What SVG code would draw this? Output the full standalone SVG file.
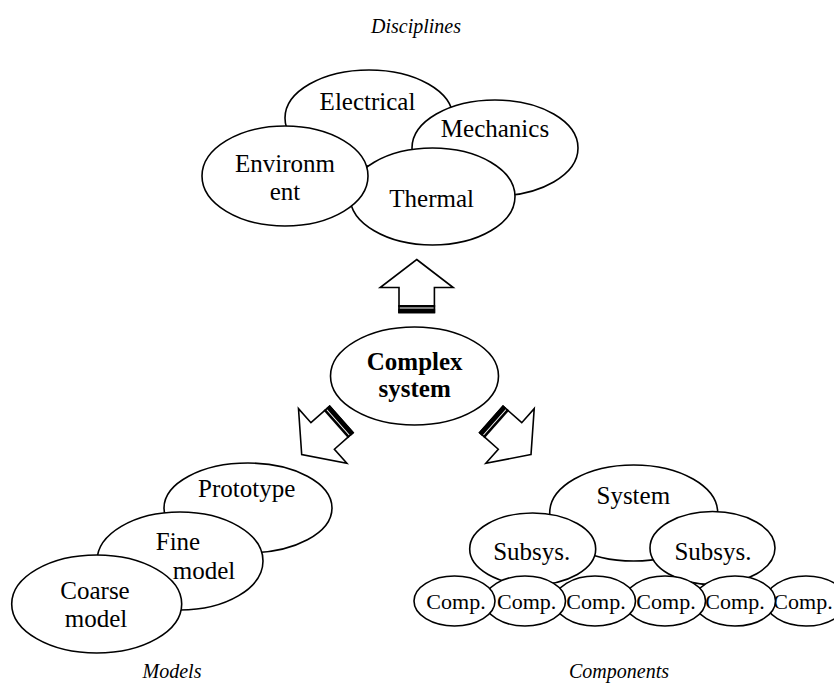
<svg xmlns="http://www.w3.org/2000/svg" xmlns:xlink="http://www.w3.org/1999/xlink" width="834" height="688" viewBox="0 0 834 688">
<style>
.n{fill:#fff;stroke:#000;stroke-width:1.6}
.t{font-family:"Liberation Serif","Times New Roman",serif;font-size:25px;fill:#000;text-anchor:middle}
.b{font-weight:bold}
.c{font-size:22px}
.cap{font-family:"Liberation Serif","Times New Roman",serif;font-size:20px;font-style:italic;fill:#000;text-anchor:middle}
</style>
<defs>
<g id="arrow">
<path d="M0,0 L36.5,28 L17.7,28 L17.7,53 L-17.7,53 L-17.7,28 L-36.5,28 Z" fill="#fff" stroke="#000" stroke-width="1.6" stroke-linejoin="miter"/>
<rect x="-18.5" y="45.5" width="37" height="2.5" fill="#000"/>
<rect x="-18.5" y="49" width="37" height="4.8" fill="#000"/>
</g>
</defs>
<rect width="834" height="688" fill="#fff"/>
<text class="cap" x="416" y="33">Disciplines</text>
<text class="cap" x="172" y="678">Models</text>
<text class="cap" x="619" y="678">Components</text>

<g id="electrical"><ellipse class="n" cx="369" cy="118" rx="84" ry="48"/><text class="t" x="367.5" y="110">Electrical</text></g>
<g id="mechanics"><ellipse class="n" cx="495" cy="148" rx="83" ry="48"/><text class="t" x="495" y="137">Mechanics</text></g>
<g id="thermal"><ellipse class="n" cx="432.5" cy="196.5" rx="82.5" ry="48.5"/><text class="t" x="431.7" y="207">Thermal</text></g>
<g id="environment"><ellipse class="n" cx="285" cy="176" rx="83" ry="50"/><text class="t" x="285" y="172">Environm</text><text class="t" x="285" y="200">ent</text></g>

<g id="complex"><ellipse class="n" cx="414.5" cy="376" rx="84" ry="49"/><text class="t b" x="414.7" y="370">Complex</text><text class="t b" x="414.7" y="397">system</text></g>

<g id="prototype"><ellipse class="n" cx="248" cy="508" rx="84" ry="45"/><text class="t" x="246.7" y="497">Prototype</text></g>
<g id="fine"><ellipse class="n" cx="180" cy="561" rx="83" ry="49"/><text class="t" x="178" y="550">Fine</text><text class="t" x="204" y="578.5">model</text></g>
<g id="coarse"><ellipse class="n" cx="96.7" cy="604" rx="85" ry="49"/><text class="t" x="95" y="598.5">Coarse</text><text class="t" x="96" y="627">model</text></g>

<g id="system"><ellipse class="n" cx="633.7" cy="513" rx="84" ry="48"/><text class="t" x="633.3" y="503.5">System</text></g>
<g id="subsys1"><ellipse class="n" cx="532.7" cy="549" rx="63" ry="36"/><text class="t" x="531.7" y="560">Subsys.</text></g>
<g id="subsys2"><ellipse class="n" cx="712.5" cy="548" rx="62.5" ry="36.5"/><text class="t" x="713" y="560">Subsys.</text></g>

<g id="comp6"><ellipse class="n" cx="806" cy="601" rx="40.5" ry="25"/><text class="t c" x="803" y="608.5">Comp.</text></g>
<g id="comp5"><ellipse class="n" cx="735" cy="601" rx="40.5" ry="25"/><text class="t c" x="735" y="608.5">Comp.</text></g>
<g id="comp4"><ellipse class="n" cx="665" cy="601" rx="40.5" ry="25"/><text class="t c" x="666" y="608.5">Comp.</text></g>
<g id="comp3"><ellipse class="n" cx="595" cy="601" rx="40.5" ry="25"/><text class="t c" x="596" y="608.5">Comp.</text></g>
<g id="comp2"><ellipse class="n" cx="525" cy="601" rx="40.5" ry="25"/><text class="t c" x="526.7" y="608.5">Comp.</text></g>
<g id="comp1"><ellipse class="n" cx="454.5" cy="601" rx="40.5" ry="25"/><text class="t c" x="456" y="608.5">Comp.</text></g>

<g id="connectors">
<use xlink:href="#arrow" transform="translate(416.7,259.5)"/>
<use xlink:href="#arrow" transform="translate(301.7,454.5) rotate(-131.5)"/>
<use xlink:href="#arrow" transform="translate(531,454.5) rotate(131.5)"/>
</g>
</svg>
